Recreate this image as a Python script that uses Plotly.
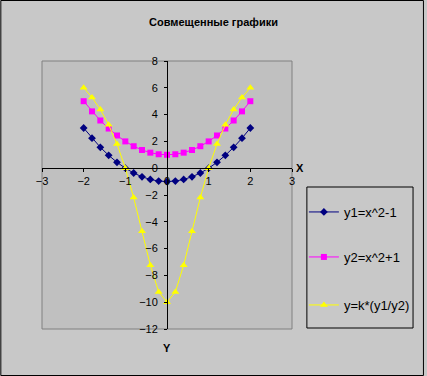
import plotly.graph_objects as go

x_vals = [-2, -1.8, -1.6, -1.4, -1.2, -1, -0.8, -0.6, -0.4, -0.2, 0,
          0.2, 0.4, 0.6, 0.8, 1, 1.2, 1.4, 1.6, 1.8, 2]
y1_vals = [3, 2.24, 1.56, 0.96, 0.44, 0, -0.36, -0.64, -0.84, -0.96, -1,
           -0.96, -0.84, -0.64, -0.36, 0, 0.44, 0.96, 1.56, 2.24, 3]
y2_vals = [5, 4.24, 3.56, 2.96, 2.44, 2, 1.64, 1.36, 1.16, 1.04, 1,
           1.04, 1.16, 1.36, 1.64, 2, 2.44, 2.96, 3.56, 4.24, 5]
y3_vals = [6, 5.283, 4.382, 3.243, 1.803, 0, -2.195, -4.706, -7.241, -9.231, -10,
           -9.231, -7.241, -4.706, -2.195, 0, 1.803, 3.243, 4.382, 5.283, 6]
series_names = ["y1=x^2-1", "y2=x^2+1", "y=k*(y1/y2)"]
title_text = "Совмещенные графики"
x_ticks = [-3, -2, -1, 0, 1, 2, 3]
y_ticks = [-12, -10, -8, -6, -4, -2, 0, 2, 4, 6, 8]

FONT = "Liberation Sans, Arial, sans-serif"

fig = go.Figure()
fig.add_trace(go.Scatter(x=x_vals, y=y1_vals, name=series_names[0], mode="lines+markers",
                         line=dict(color="#000080", width=1),
                         marker=dict(symbol="diamond", size=6, color="#000080"),
                         legend="legend"))
fig.add_trace(go.Scatter(x=x_vals, y=y2_vals, name=series_names[1], mode="lines+markers",
                         line=dict(color="#FF00FF", width=1),
                         marker=dict(symbol="square", size=6, color="#FF00FF"),
                         legend="legend2"))
fig.add_trace(go.Scatter(x=x_vals, y=y3_vals, name=series_names[2], mode="lines+markers",
                         line=dict(color="#FFFF00", width=1),
                         marker=dict(symbol="triangle-up", size=7, color="#FFFF00"),
                         legend="legend3"))

L, R, T, B = 42, 133, 61, 47
W, H = 427, 376
pw, ph = W - L - R, H - T - B

def px_x(v):
    return (v - L) / pw

def px_y(v):
    return (H - B - v) / ph

leg_common = dict(bgcolor="rgba(0,0,0,0)", borderwidth=0, font=dict(family=FONT, size=13, color="black"),
                  xanchor="left", yanchor="middle", itemwidth=30)
fig.update_layout(
    width=W, height=H,
    margin=dict(l=L, r=R, t=T, b=B, pad=0),
    paper_bgcolor="#C8C8C8",
    plot_bgcolor="#C0C0C0",
    font=dict(family=FONT, size=11, color="black"),
    title=dict(text="<b>" + title_text + "</b>", x=0.5, xanchor="center", xref="container",
               y=1 - 22 / H, yanchor="middle", yref="container",
               font=dict(family=FONT, size=11, color="black")),
    showlegend=True,
    legend=dict(x=px_x(306), y=px_y(212), **leg_common),
    legend2=dict(x=px_x(306), y=px_y(257), **leg_common),
    legend3=dict(x=px_x(306), y=px_y(305), **leg_common),
    xaxis=dict(range=[-3, 3], tickvals=x_ticks, showgrid=False, zeroline=False,
               showline=True, linecolor="black", linewidth=1,
               ticks="outside", ticklen=3, tickcolor="black",
               anchor="free", position=0.6, tickfont=dict(size=11)),
    yaxis=dict(range=[-12, 8], tickvals=y_ticks, showgrid=False, zeroline=False,
               showline=True, linecolor="black", linewidth=1,
               ticks="outside", ticklen=3, tickcolor="black", ticklabelstandoff=4,
               anchor="free", position=0.5, tickfont=dict(size=11)),
)

fig.add_shape(type="rect", xref="paper", yref="paper", x0=0, x1=1, y0=0, y1=1,
              line=dict(color="#808080", width=1), layer="below")
fig.add_shape(type="rect", xref="paper", yref="paper",
              x0=px_x(309), x1=px_x(416), y0=px_y(328), y1=px_y(187),
              line=dict(color="black", width=1), layer="above")
fig.add_shape(type="rect", xref="paper", yref="paper",
              x0=px_x(0.5), x1=px_x(426.5), y0=px_y(375.5), y1=px_y(0.5),
              line=dict(color="black", width=1), layer="above")

fig.add_annotation(text="<b>X</b>", xref="paper", yref="paper", x=px_x(302), y=0.6,
                   showarrow=False, font=dict(family=FONT, size=11, color="black"),
                   xanchor="center", yanchor="middle")
fig.add_annotation(text="<b>Y</b>", xref="paper", yref="paper", x=0.5, y=px_y(348),
                   showarrow=False, font=dict(family=FONT, size=11, color="black"),
                   xanchor="center", yanchor="middle")

fig.write_html("out.html", config={"displayModeBar": False},
               post_script="document.body.style.margin='0';document.body.style.overflow='hidden';")
